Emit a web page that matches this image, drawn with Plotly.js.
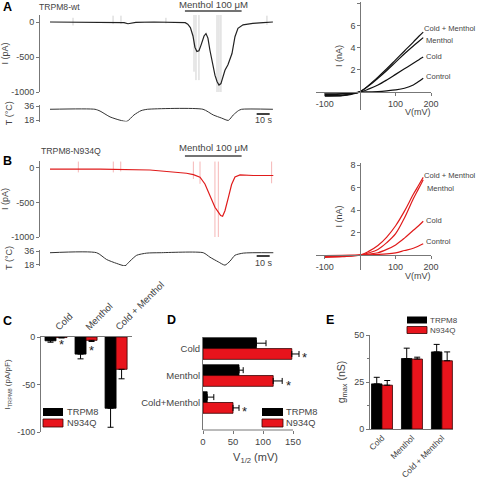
<!DOCTYPE html>
<html><head><meta charset="utf-8">
<script src="https://cdn.plot.ly/plotly-3.0.1.min.js"></script>
<style>html,body{margin:0;padding:0;background:#fff}#chart{width:477px;height:481px}</style>
</head><body><div id="chart"></div>
<script>
// ---------- Panel A: TRPM8-wt current trace (time s, current pA) ----------
const timeA = [0, 20, 40, 55, 57, 60, 63, 66, 80, 100, 104, 106, 108, 110, 111.5, 113, 114.6, 116.2, 118.5, 120, 121.5, 123, 125.4, 126.9, 128.5, 130, 131.5, 133, 134.6, 136.9, 140, 142.3, 144.6, 148.5, 156, 164, 171.5];
const currentA = [0, 0, 0, 0, -10, -25, -20, -5, 0, -5, -10, -30, -80, -200, -360, -420, -410, -330, -200, -165, -230, -400, -620, -760, -850, -900, -880, -800, -690, -610, -450, -210, -90, -40, -20, -10, 0];
const artifactTimeA = [17.7, 17.7, null, 48.5, 48.5, null, 54.6, 54.6, null, 89.2, 89.2, null, 110.8, 110.8, null, 112.3, 112.3, null, 114.6, 114.6, null, 128.5, 128.5, null, 130, 130, null, 131.5, 131.5, null, 166.9, 166.9];
const artifactCurrentA = [60, -50, null, 90, -30, null, 90, -30, null, 60, -20, null, 100, -710, null, 100, -830, null, 100, -830, null, 100, -1000, null, 100, -1000, null, 100, -1000, null, 90, -40];
const tempTimeA = [0, 34.6, 38.5, 46.2, 53.8, 59.2, 64.6, 70, 75, 117.7, 125.6, 132, 137.2, 141, 144.9, 147.4, 171.5];
const tempA = [31.8, 31.8, 29.5, 22, 17.8, 16.3, 24.5, 30, 31.8, 31.8, 24.5, 20.5, 17.5, 24.5, 30, 31.8, 31.8];

// ---------- Panel B: TRPM8-N934Q current trace ----------
const timeB = [0, 38.5, 76.9, 89.7, 100, 105, 110.3, 115.4, 119.2, 121.8, 124.4, 126.9, 129.5, 131.3, 132.8, 134.6, 137.2, 139.7, 142.3, 146.2, 156.4, 166.7, 171.8];
const currentB = [-19, -19, -30, -48, -62, -77, -97, -135, -232, -350, -470, -570, -640, -690, -700, -620, -430, -240, -130, -100, -110, -115, -110];
const artifactTimeB = [21.8, 21.8, null, 48.7, 48.7, null, 54.4, 54.4, null, 110.3, 110.3, null, 115.4, 115.4, null, 126.9, 126.9, null, 129.5, 129.5, null, 170.5, 170.5];
const artifactCurrentB = [92, -65, null, 92, -65, null, 92, -50, null, 92, -160, null, 92, -230, null, 92, -1000, null, 92, -1000, null, 92, -222];
const tempTimeB = [0, 35.9, 43.6, 51.3, 57.7, 61.5, 66.7, 74.4, 84.6, 117.9, 123.1, 129.5, 134.6, 138.5, 142.3, 148.7, 171.8];
const tempB = [33.8, 33.8, 25, 20, 17, 23, 30.5, 33.3, 33.8, 33.8, 28, 22, 17.8, 23, 30.5, 33.3, 33.8];

const mentholWindow = [103.8, 147.4];   // s, menthol 100 uM application
const scaleBar = [159, 169];            // 10 s

// ---------- I-V curves (mV, nA) ----------
const ivVoltageA = [-100, -50, -25, 0, 25, 50, 75, 100, 125, 150, 165, 178];
const ivControlA = [-0.15, -0.12, -0.08, 0, 0.03, 0.06, 0.12, 0.2, 0.35, 0.65, 0.95, 1.25];
const ivColdA = [-0.2, -0.18, -0.1, 0, 0.3, 0.65, 1.1, 1.6, 2.1, 2.6, 2.9, 3.15];
const ivMentholA = [-0.3, -0.28, -0.15, 0.05, 0.6, 1.25, 1.95, 2.7, 3.45, 4.15, 4.55, 4.9];
const ivColdMentholA = [-0.35, -0.32, -0.2, 0.05, 0.65, 1.35, 2.1, 2.9, 3.7, 4.5, 5.0, 5.4];

const ivVoltageB = [-100, -50, 0, 25, 50, 75, 100, 125, 150, 165, 178];
const ivControlB = [-0.05, -0.03, 0, 0.02, 0.05, 0.1, 0.2, 0.4, 0.6, 0.8, 1.0];
const ivColdB = [-0.1, -0.05, 0, 0.08, 0.2, 0.5, 0.9, 1.5, 2.2, 2.6, 3.0];
const ivMentholB = [-0.15, -0.1, 0, 0.2, 0.5, 1.1, 1.9, 3.3, 5.0, 5.9, 6.7];
const ivColdMentholB = [-0.2, -0.15, 0, 0.35, 0.85, 1.6, 2.6, 3.9, 5.4, 6.2, 6.9];

// ---------- Panels C, D, E ----------
const conditions = ['Cold', 'Menthol', 'Cold + Menthol'];
const conditionsD = ['Cold', 'Menthol', 'Cold+Menthol'];
const seriesNames = ['TRPM8', 'N934Q'];
const densityWT = [-4, -18, -75];
const densityWTErr = [1.5, 5, 20];
const densityMut = [-0.6, -3.5, -34];
const densityMutErr = [0.4, 1.2, 10];
const v12WT = [89, 60, 7];
const v12WTErr = [16, 7, 11];
const v12Mut = [148, 117, 50];
const v12MutErr = [12, 15, 10];
const gmaxWT = [24, 37.5, 41];
const gmaxWTErr = [3.5, 5.5, 4];
const gmaxMut = [23.3, 37.2, 36.3];
const gmaxMutErr = [2.5, 1, 4.7];

// ---------- helpers ----------
const W = 477, H = 481;
const px = x => x / W;
const py = y => 1 - y / H;
const FONT = 'Liberation Sans, Arial, sans-serif';
const TXT = '#444';
const LINE = '#777';
const BLACK = '#000000';
const RED = '#e8141c';
const f = (s, c) => ({size: s, color: c || TXT, family: FONT});

const AX = {showline: true, linecolor: LINE, linewidth: 1, ticks: 'outside', ticklen: 3, tickcolor: LINE,
  tickwidth: 1, zeroline: false, showgrid: false, tickfont: f(9), fixedrange: true};
const ax = o => Object.assign({}, AX, o);

function zeroPos(range, d0, d1) { // paper position of value 0 on an axis with given range and paper domain
  return d0 + (0 - range[0]) / (range[1] - range[0]) * (d1 - d0);
}

const tRange = [-7.7, 173.1];
const tDom = [px(40), px(275)];
const ivXRange = [-125, 200];
const ivXDom = [px(316), px(431)];
const ivYRangeA = [-1.6, 8.1], ivYDomA = [py(110), py(2)];
const ivYRangeB = [-1.33, 8.18], ivYDomB = [py(270), py(163)];

const traces = [];
traces.push({x: artifactTimeA, y: artifactCurrentA, xaxis: 'x', yaxis: 'y', mode: 'lines', line: {color: '#c4c4c4', width: 0.8}, connectgaps: false, showlegend: false, hoverinfo: 'skip'});
traces.push({x: timeA, y: currentA, xaxis: 'x', yaxis: 'y', mode: 'lines', line: {color: '#222', width: 1.2}, showlegend: false});
traces.push({x: tempTimeA, y: tempA, xaxis: 'x', yaxis: 'y2', mode: 'lines', line: {color: '#333', width: 1, shape: 'spline', smoothing: 0.6}, showlegend: false});
traces.push({x: artifactTimeB, y: artifactCurrentB, xaxis: 'x2', yaxis: 'y3', mode: 'lines', line: {color: '#f3a3a3', width: 0.8}, connectgaps: false, showlegend: false, hoverinfo: 'skip'});
traces.push({x: timeB, y: currentB, xaxis: 'x2', yaxis: 'y3', mode: 'lines', line: {color: '#e01b1b', width: 1.2}, showlegend: false});
traces.push({x: tempTimeB, y: tempB, xaxis: 'x2', yaxis: 'y4', mode: 'lines', line: {color: '#333', width: 1, shape: 'spline', smoothing: 0.6}, showlegend: false});
[[ivControlA, 'Control'], [ivColdA, 'Cold'], [ivMentholA, 'Menthol'], [ivColdMentholA, 'Cold + Menthol']].forEach(([ys, n]) =>
  traces.push({x: ivVoltageA, y: ys, name: n, xaxis: 'x3', yaxis: 'y5', mode: 'lines', line: {color: '#111', width: 1.2, shape: 'spline'}, showlegend: false}));
[[ivControlB, 'Control'], [ivColdB, 'Cold'], [ivMentholB, 'Menthol'], [ivColdMentholB, 'Cold + Menthol']].forEach(([ys, n]) =>
  traces.push({x: ivVoltageB, y: ys, name: n, xaxis: 'x4', yaxis: 'y6', mode: 'lines', line: {color: '#e01b1b', width: 1.2, shape: 'spline'}, showlegend: false}));

const errStyle = {color: '#000', thickness: 1, width: 3};
const zeros = [0, 0, 0];
traces.push({type: 'bar', x: conditions, y: densityWT, name: seriesNames[0], xaxis: 'x5', yaxis: 'y7', offset: -0.367, width: 0.367,
  marker: {color: BLACK, line: {color: '#000', width: 0.8}}, error_y: Object.assign({type: 'data', symmetric: false, array: zeros, arrayminus: densityWTErr}, errStyle), showlegend: false});
traces.push({type: 'bar', x: conditions, y: densityMut, name: seriesNames[1], xaxis: 'x5', yaxis: 'y7', offset: 0, width: 0.367,
  marker: {color: RED, line: {color: '#300', width: 0.8}}, error_y: Object.assign({type: 'data', symmetric: false, array: zeros, arrayminus: densityMutErr}, errStyle), showlegend: false});
traces.push({type: 'bar', orientation: 'h', y: conditionsD, x: v12WT, name: seriesNames[0], xaxis: 'x6', yaxis: 'y8', offset: -0.4, width: 0.4,
  marker: {color: BLACK, line: {color: '#000', width: 0.8}}, error_x: Object.assign({type: 'data', symmetric: false, array: v12WTErr, arrayminus: zeros}, errStyle), showlegend: false});
traces.push({type: 'bar', orientation: 'h', y: conditionsD, x: v12Mut, name: seriesNames[1], xaxis: 'x6', yaxis: 'y8', offset: 0, width: 0.4,
  marker: {color: RED, line: {color: '#300', width: 0.8}}, error_x: Object.assign({type: 'data', symmetric: false, array: v12MutErr, arrayminus: zeros}, errStyle), showlegend: false});
traces.push({type: 'bar', x: conditions, y: gmaxWT, name: seriesNames[0], xaxis: 'x7', yaxis: 'y9', offset: -0.35, width: 0.35,
  marker: {color: BLACK, line: {color: '#000', width: 0.8}}, error_y: Object.assign({type: 'data', symmetric: false, array: gmaxWTErr, arrayminus: zeros}, errStyle), showlegend: false});
traces.push({type: 'bar', x: conditions, y: gmaxMut, name: seriesNames[1], xaxis: 'x7', yaxis: 'y9', offset: 0, width: 0.35,
  marker: {color: RED, line: {color: '#300', width: 0.8}}, error_y: Object.assign({type: 'data', symmetric: false, array: gmaxMutErr, arrayminus: zeros}, errStyle), showlegend: false});

const layout = {
  width: W, height: H, margin: {l: 0, r: 0, t: 0, b: 0}, paper_bgcolor: '#fff', plot_bgcolor: 'rgba(0,0,0,0)',
  font: {family: FONT, color: TXT, size: 9}, showlegend: false, barmode: 'overlay',
  xaxis: {domain: tDom, range: tRange, visible: false, anchor: 'y', fixedrange: true},
  yaxis: ax({domain: [py(92), py(15)], range: [-1000, 100], anchor: 'x', tickvals: [0, -500, -1000], ticktext: ['0', '-500', '-1000'],
    title: {text: 'I (pA)', font: f(9), standoff: 4}}),
  yaxis2: ax({domain: [py(121.5), py(105)], range: [16.1, 37.3], anchor: 'x', tickvals: [18, 36],
    title: {text: 'T (°C)', font: f(9), standoff: 10}}),
  xaxis2: {domain: tDom, range: tRange, visible: false, anchor: 'y3', fixedrange: true},
  yaxis3: ax({domain: [py(237), py(161)], range: [-1000, 100], anchor: 'x2', tickvals: [0, -500, -1000], ticktext: ['0', '-500', '-1000'],
    title: {text: 'I (pA)', font: f(9), standoff: 4}}),
  yaxis4: ax({domain: [py(266), py(250)], range: [16.7, 37.3], anchor: 'x2', tickvals: [18, 36],
    title: {text: 'T (°C)', font: f(9), standoff: 10}}),
  xaxis3: ax({domain: ivXDom, range: ivXRange, anchor: 'free', position: zeroPos(ivYRangeA, ivYDomA[0], ivYDomA[1]),
    tickvals: [-100, 100, 200], ticktext: ['-100', '100', '200']}),
  yaxis5: ax({domain: ivYDomA, range: ivYRangeA, anchor: 'free', position: zeroPos(ivXRange, ivXDom[0], ivXDom[1]),
    tickvals: [2, 4, 6, 8], title: {text: 'I (nA)', font: f(9), standoff: 5}}),
  xaxis4: ax({domain: ivXDom, range: ivXRange, anchor: 'free', position: zeroPos(ivYRangeB, ivYDomB[0], ivYDomB[1]),
    tickvals: [-100, 100, 200], ticktext: ['-100', '100', '200']}),
  yaxis6: ax({domain: ivYDomB, range: ivYRangeB, anchor: 'free', position: zeroPos(ivXRange, ivXDom[0], ivXDom[1]),
    tickvals: [2, 4, 6, 8], title: {text: 'I (nA)', font: f(9), standoff: 5}}),
  xaxis5: ax({domain: [px(41), px(132)], range: [-0.5, 2.53], type: 'category', categoryarray: conditions, side: 'top', anchor: 'y7',
    tickangle: -45, ticks: '', tickfont: f(9.5)}),
  yaxis7: ax({domain: [py(432), py(337)], range: [-100, 0], anchor: 'x5', tickvals: [0, -50, -100], ticktext: ['0', '-50', '-100'],
    title: {text: 'I<sub>TRPM8</sub> (pA/pF)', font: f(8), standoff: 5}}),
  xaxis6: ax({domain: [px(203), px(308)], range: [0, 175], anchor: 'y8', showline: false, tickvals: [0, 50, 100, 150],
    tickfont: f(9.5), title: {text: 'V<sub>1/2</sub> (mV)', font: f(11), standoff: 6}}),
  yaxis8: ax({domain: [py(430), py(337)], type: 'category', categoryarray: conditionsD, range: [3.02, -0.43], anchor: 'x6', ticks: '',
    tickfont: f(9.5)}),
  xaxis7: ax({domain: [px(370), px(453)], range: [-0.4, 2.37], type: 'category', categoryarray: conditions, anchor: 'y9', tickangle: -45, ticks: '',
    tickfont: f(8.3)}),
  yaxis9: ax({domain: [py(429), py(335)], range: [0, 50], anchor: 'x7', tickvals: [0, 25, 50],
    minor: {tickvals: [12.5, 37.5], ticks: 'outside', ticklen: 2, tickcolor: LINE},
    title: {text: 'g<sub>max</sub> (nS)', font: f(10.5), standoff: 6}}),
  shapes: [
    {type: 'line', xref: 'x', yref: 'paper', x0: mentholWindow[0], x1: mentholWindow[1], y0: py(11), y1: py(11), line: {color: '#444', width: 1.5}},
    {type: 'line', xref: 'x2', yref: 'paper', x0: mentholWindow[0], x1: mentholWindow[1], y0: py(156), y1: py(156), line: {color: '#444', width: 1.5}},
    {type: 'line', xref: 'x', yref: 'paper', x0: scaleBar[0], x1: scaleBar[1], y0: py(114), y1: py(114), line: {color: '#000', width: 1.5}},
    {type: 'line', xref: 'x2', yref: 'paper', x0: scaleBar[0], x1: scaleBar[1], y0: py(256), y1: py(256), line: {color: '#000', width: 1.5}},
    {type: 'line', xref: 'x6', yref: 'paper', x0: 0, x1: 150, y0: py(430), y1: py(430), line: {color: LINE, width: 1}},
    // legend keys
    {type: 'rect', xref: 'paper', yref: 'paper', x0: px(43), x1: px(63), y0: py(416), y1: py(408), fillcolor: BLACK, line: {width: 0}},
    {type: 'rect', xref: 'paper', yref: 'paper', x0: px(43), x1: px(63), y0: py(427), y1: py(419), fillcolor: RED, line: {color: '#300', width: 0.8}},
    {type: 'rect', xref: 'paper', yref: 'paper', x0: px(262), x1: px(283), y0: py(416), y1: py(408), fillcolor: BLACK, line: {width: 0}},
    {type: 'rect', xref: 'paper', yref: 'paper', x0: px(262), x1: px(283), y0: py(427), y1: py(419), fillcolor: RED, line: {color: '#300', width: 0.8}},
    {type: 'rect', xref: 'paper', yref: 'paper', x0: px(407), x1: px(427), y0: py(323.5), y1: py(316.5), fillcolor: BLACK, line: {width: 0}},
    {type: 'rect', xref: 'paper', yref: 'paper', x0: px(407), x1: px(427), y0: py(333.5), y1: py(326.5), fillcolor: RED, line: {color: '#300', width: 0.8}}
  ],
  annotations: []
};

function note(text, x, y, o) {
  layout.annotations.push(Object.assign({text: text, xref: 'paper', yref: 'paper', x: px(x), y: py(y), showarrow: false,
    xanchor: 'left', yanchor: 'middle', font: f(9)}, o || {}));
}
const bold = {font: Object.assign(f(12.5, '#000'), {weight: 'bold'})};
note('A', 1, 7, bold);
note('B', 1, 161, bold);
note('C', 1, 321, bold);
note('D', 165, 320, bold);
note('E', 324, 320, bold);
note('TRPM8-wt', 37, 7, {font: f(8.6)});
note('TRPM8-N934Q', 39, 151, {font: f(8.7)});
note('Menthol 100 μM', 213.5, 5, {xanchor: 'center', font: f(9.6)});
note('Menthol 100 μM', 213.5, 147, {xanchor: 'center', font: f(9.6)});
note('10 s', 264, 120, {xanchor: 'center'});
note('10 s', 264, 263, {xanchor: 'center'});
note('V(mV)', 418, 112, {xanchor: 'center'});
note('V(mV)', 418, 276, {xanchor: 'center'});
const ivf = {font: f(7.6)};
note('Cold + Menthol', 422, 28, ivf);
note('Menthol', 424, 40, ivf);
note('Cold', 424, 56, ivf);
note('Control', 424, 76, ivf);
note('Cold + Menthol', 422, 175, ivf);
note('Menthol', 425, 188, ivf);
note('Cold', 424, 220, ivf);
note('Control', 424, 241, ivf);
const ast = {xanchor: 'center', font: f(13, '#222')};
note('*', 62, 344, ast);
note('*', 91, 350, ast);
note('*', 304, 357, ast);
note('*', 288, 385, ast);
note('*', 244, 411, ast);
const lg = {font: f(9.3)};
note(seriesNames[0], 65, 412, lg);
note(seriesNames[1], 65, 423, lg);
note(seriesNames[0], 284, 412, lg);
note(seriesNames[1], 284, 423, lg);
note(seriesNames[0], 428, 320, {font: f(8)});
note(seriesNames[1], 428, 330, {font: f(8)});

Plotly.newPlot('chart', traces, layout, {displayModeBar: false, staticPlot: true});
</script></body></html>
